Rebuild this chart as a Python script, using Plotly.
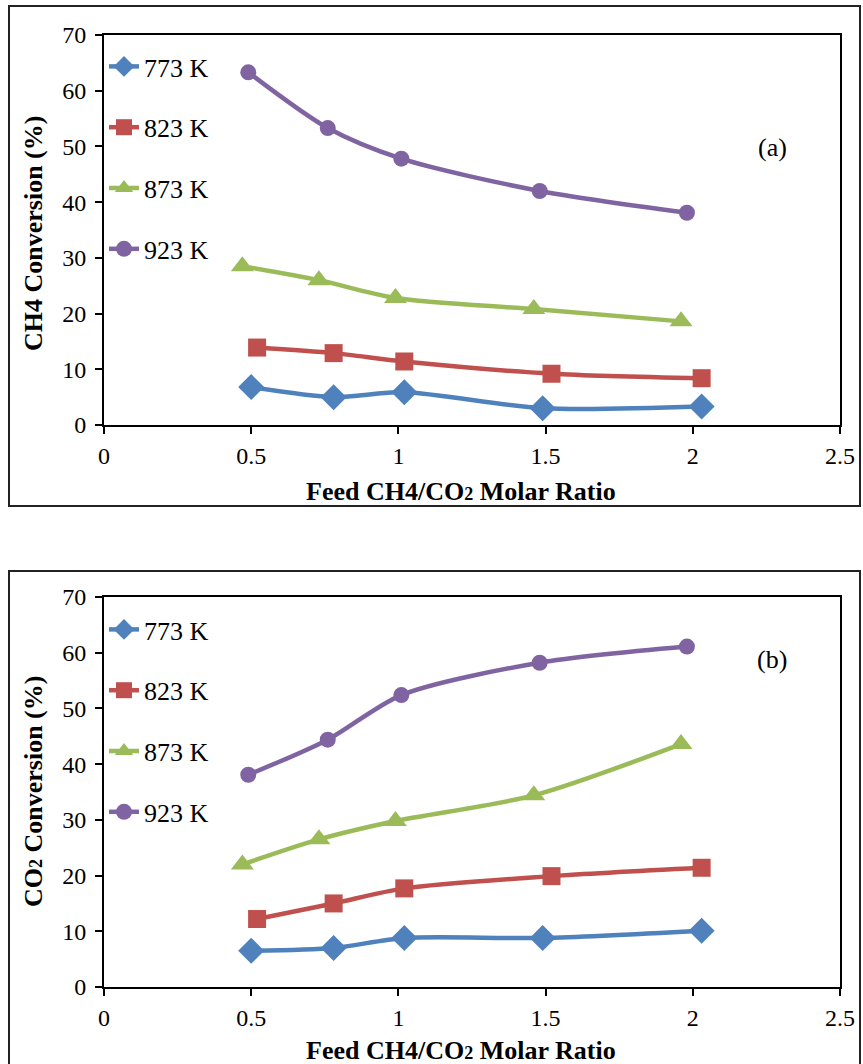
import plotly.graph_objects as go

# ---------------- data ----------------
temps = ["773 K", "823 K", "873 K", "923 K"]
colors = ["#4F81BD", "#C0504D", "#9BBB59", "#8064A2"]
symbols = ["diamond", "square", "triangle-up", "circle"]

x_773 = [0.50, 0.78, 1.02, 1.49, 2.03]
x_823 = [0.52, 0.78, 1.02, 1.52, 2.03]
x_873 = [0.47, 0.73, 0.99, 1.46, 1.96]
x_923 = [0.49, 0.76, 1.01, 1.48, 1.98]

ch4_773 = [6.8, 5.0, 5.9, 3.0, 3.3]
ch4_823 = [13.9, 12.9, 11.4, 9.2, 8.4]
ch4_873 = [28.5, 26.0, 22.8, 20.8, 18.6]
ch4_923 = [63.3, 53.3, 47.8, 42.0, 38.1]

co2_773 = [6.5, 7.0, 8.8, 8.8, 10.1]
co2_823 = [12.2, 15.0, 17.7, 19.9, 21.4]
co2_873 = [22.0, 26.5, 29.8, 34.4, 43.6]
co2_923 = [38.1, 44.4, 52.4, 58.2, 61.1]

x_ticks = [0, 0.5, 1, 1.5, 2, 2.5]
x_ticktext = ["0", "0.5", "1", "1.5", "2", "2.5"]
y_ticks = [0, 10, 20, 30, 40, 50, 60, 70]

xs = [x_773, x_823, x_873, x_923]
ch4 = [ch4_773, ch4_823, ch4_873, ch4_923]
co2 = [co2_773, co2_823, co2_873, co2_923]
msizes = [20, 18, 20, 16]

W, H = 863, 1064
FONT = "Liberation Serif"

def px_x(p):
    return p / W

def px_y(p):
    return 1 - p / H

fig = go.Figure()

panels = [
    (ch4, "x", "y", "legend"),
    (co2, "x2", "y2", "legend2"),
]
for data, xa, ya, lg in panels:
    for i in range(4):
        fig.add_trace(go.Scatter(
            x=xs[i], y=data[i], name=temps[i],
            mode="lines+markers",
            line=dict(color=colors[i], width=4.5, shape="spline", smoothing=0.8),
            marker=dict(symbol=symbols[i], size=msizes[i], color=colors[i]),
            xaxis=xa, yaxis=ya, legend=lg, legendgroup=lg + str(i),
        ))

axis_common = dict(
    showline=True, linecolor="black", linewidth=2, mirror=True,
    ticks="outside", ticklen=7, tickwidth=2, tickcolor="black",
    showgrid=False, zeroline=False, automargin=False,
    tickfont=dict(family=FONT, size=24, color="black"),
)

sub2 = "<span style='font-size:18px'>2</span>"
xtitle = "<b>Feed CH4/CO" + sub2 + " Molar Ratio</b>"
ytitle_a = "<b>CH4 Conversion (%)</b>"
ytitle_b = "<b>CO" + sub2 + " Conversion (%)</b>"
title_font = dict(family=FONT, size=26, color="black")

legend_common = dict(xanchor="left", yanchor="top", bgcolor="rgba(0,0,0,0)",
                     tracegroupgap=24, traceorder="grouped",
                     font=dict(family=FONT, size=26, color="black"))

def label(text, x, y, angle=0):
    return dict(text=text, x=px_x(x), y=px_y(y), xref="paper", yref="paper",
                xanchor="center", yanchor="middle", showarrow=False,
                textangle=angle, font=title_font)

fig.update_layout(
    width=W, height=H,
    margin=dict(l=0, r=0, t=0, b=0, autoexpand=False),
    paper_bgcolor="white", plot_bgcolor="white",
    showlegend=True,
    xaxis=dict(axis_common, domain=[px_x(104), px_x(840)], range=[0, 2.5],
               tickvals=x_ticks, ticktext=x_ticktext, anchor="y",
               ticklabelstandoff=1),
    yaxis=dict(axis_common, domain=[px_y(425), px_y(35)], range=[0, 70],
               tickvals=y_ticks, anchor="x", ticklabelstandoff=4),
    xaxis2=dict(axis_common, domain=[px_x(104), px_x(840)], range=[0, 2.5],
                tickvals=x_ticks, ticktext=x_ticktext, anchor="y2",
                ticklabelstandoff=1),
    yaxis2=dict(axis_common, domain=[px_y(987), px_y(597)], range=[0, 70],
                tickvals=y_ticks, anchor="x2", ticklabelstandoff=4),
    legend=dict(legend_common, x=px_x(104), y=px_y(43)),
    legend2=dict(legend_common, x=px_x(104), y=px_y(606)),
    shapes=[
        dict(type="rect", xref="paper", yref="paper",
             x0=px_x(9), x1=px_x(860), y0=px_y(506), y1=px_y(6),
             line=dict(color="#222", width=2), fillcolor="rgba(0,0,0,0)", layer="below"),
        dict(type="rect", xref="paper", yref="paper",
             x0=px_x(9), x1=px_x(860), y0=-0.01, y1=px_y(571),
             line=dict(color="#222", width=2), fillcolor="rgba(0,0,0,0)", layer="below"),
    ],
    annotations=[
        dict(text="(a)", x=2.27, y=49.8, xref="x", yref="y", showarrow=False,
             xanchor="center", yanchor="middle",
             font=dict(family=FONT, size=26, color="black")),
        dict(text="(b)", x=2.27, y=58.7, xref="x2", yref="y2", showarrow=False,
             xanchor="center", yanchor="middle",
             font=dict(family=FONT, size=26, color="black")),
        label(xtitle, 461, 492),
        label(xtitle, 461, 1050),
        label(ytitle_a, 33, 234, -90),
        label(ytitle_b, 33, 792, -90),
    ],
)

fig.write_html("out.html")
